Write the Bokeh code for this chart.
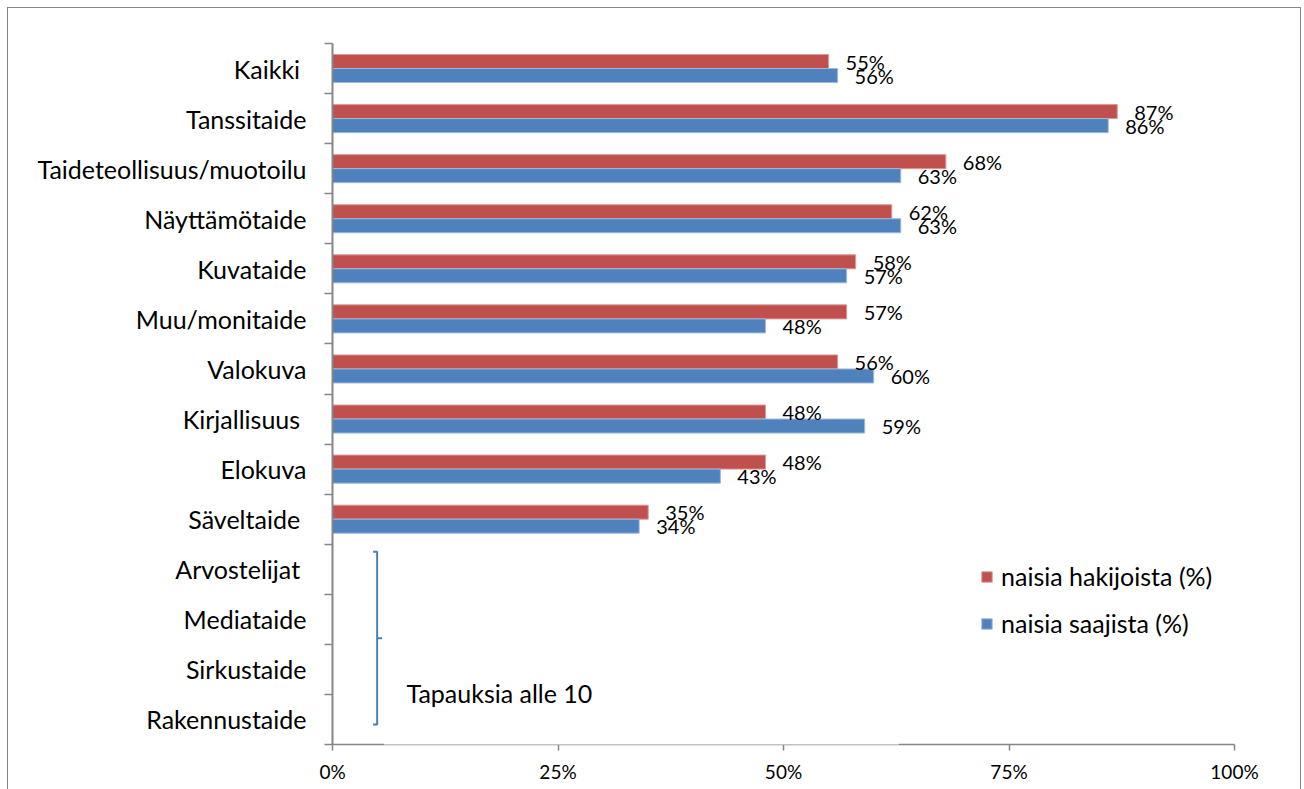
from bokeh.plotting import figure
from bokeh.models import (ColumnDataSource, FixedTicker, Range1d, Legend, LegendItem,
                          Label, BoxAnnotation, PrintfTickFormatter)
from bokeh.transform import dodge
from bokeh.core.properties import value
from bokeh.embed import file_html
from bokeh.resources import INLINE

# ---------------- data ----------------
categories = ["Kaikki ", "Tanssitaide", "Taideteollisuus/muotoilu", "Näyttämötaide",
              "Kuvataide", "Muu/monitaide", "Valokuva", "Kirjallisuus ", "Elokuva",
              "Säveltaide ", "Arvostelijat ", "Mediataide", "Sirkustaide", "Rakennustaide"]
hakijoista = [55, 87, 68, 62, 58, 57, 56, 48, 48, 35]
saajista = [56, 86, 63, 63, 57, 48, 60, 59, 43, 34]
series_names = ["naisia hakijoista (%)", "naisia saajista (%)"]
x_ticks = [0, 25, 50, 75, 100]
note_text = "Tapauksia alle 10"

# ---------------- styling ----------------
RED = "#C0504D"
BLUE = "#4F81BD"
AXIS = "#868686"
FONT = "Lato"

n = len(categories)
centers = [n - i - 0.5 for i in range(n)]
nd = len(hakijoista)

src = ColumnDataSource(dict(
    y=centers[:nd],
    hak=hakijoista,
    saa=saajista,
    hak_lbl=[f"{v}%" for v in hakijoista],
    saa_lbl=[f"{v}%" for v in saajista],
))

p = figure(frame_width=902, frame_height=701,
           x_range=Range1d(0, 100), y_range=Range1d(0, n),
           output_backend="svg", toolbar_location=None,
           min_border_left=324, min_border_right=66,
           min_border_top=35, min_border_bottom=45)
p.outline_line_color = None
p.xgrid.visible = False
p.ygrid.visible = False
p.background_fill_color = "white"
p.border_fill_color = "white"
p.styles = {"margin-left": "7px", "margin-top": "7px",
            "border-top": f"1px solid {AXIS}", "border-left": f"1px solid {AXIS}",
            "border-right": f"1px solid {AXIS}"}

BAR_H = 0.28
r_hak = p.hbar(y=dodge("y", BAR_H / 2), left=0, right="hak", height=BAR_H, source=src,
               fill_color=RED, line_color="#d99a98", line_width=1)
r_saa = p.hbar(y=dodge("y", -BAR_H / 2), left=0, right="saa", height=BAR_H, source=src,
               fill_color=BLUE, line_color="#9dbadf", line_width=1)

p.text(x="hak", y=dodge("y", BAR_H / 2), text="hak_lbl", source=src, x_offset=17,
       text_baseline="middle", text_align="left", text_font=value(FONT),
       text_font_size="20px", text_color="black")
p.text(x="saa", y=dodge("y", -BAR_H / 2), text="saa_lbl", source=src, x_offset=17,
       text_baseline="middle", text_align="left", text_font=value(FONT),
       text_font_size="20px", text_color="black")

# bracket for small-sample categories
bx = 4.95
p.line(x=[bx - 0.45, bx, bx, bx - 0.45], y=[3.85, 3.85, 0.4, 0.4],
       line_color="#4a7ebb", line_width=2)
p.segment(x0=[bx], x1=[bx + 0.55], y0=[2.12], y1=[2.12], line_color="#4a7ebb", line_width=2)
p.add_layout(Label(x=8.2, y=1.02, text=note_text, text_baseline="middle",
                   text_font=FONT, text_font_size="25px", text_color="black"))

# white text-box covering part of the x-axis line
p.add_layout(BoxAnnotation(left=5.7, right=62.8, bottom=-0.07, top=0.04,
                           fill_color="white", fill_alpha=1, line_color=None,
                           level="overlay"))

# axes
p.xaxis.ticker = FixedTicker(ticks=x_ticks)
p.xaxis.formatter = PrintfTickFormatter(format="%d%%")
p.xaxis.axis_line_color = AXIS
p.xaxis.axis_line_width = 1.5
p.xaxis.major_tick_line_color = AXIS
p.xaxis.major_tick_line_width = 1.5
p.xaxis.major_tick_out = 6
p.xaxis.major_tick_in = 0
p.xaxis.minor_tick_line_color = None
p.xaxis.major_label_standoff = 9
p.xaxis.major_label_text_font = FONT
p.xaxis.major_label_text_font_size = "19px"
p.xaxis.major_label_text_color = "black"

p.yaxis.ticker = FixedTicker(ticks=centers, minor_ticks=list(range(n + 1)))
p.yaxis.major_label_overrides = {c: cat for c, cat in zip(centers, categories)}
p.yaxis.axis_line_color = AXIS
p.yaxis.axis_line_width = 2
p.yaxis.major_tick_line_color = None
p.yaxis.major_tick_out = 0
p.yaxis.major_tick_in = 0
p.yaxis.minor_tick_line_color = AXIS
p.yaxis.minor_tick_line_width = 1.5
p.yaxis.minor_tick_out = 8
p.yaxis.minor_tick_in = 0
p.yaxis.major_label_standoff = 18
p.yaxis.major_label_text_font = FONT
p.yaxis.major_label_text_font_size = "25px"
p.yaxis.major_label_text_color = "black"

legend = Legend(items=[LegendItem(label=series_names[0], renderers=[r_hak]),
                       LegendItem(label=series_names[1], renderers=[r_saa])],
                location=(648, 106), orientation="vertical",
                border_line_color=None, background_fill_alpha=0,
                padding=0, margin=0, spacing=17,
                glyph_width=13, glyph_height=13, label_standoff=8,
                label_text_font=FONT, label_text_font_size="25px",
                label_text_color="black")
p.add_layout(legend)

open("out.html", "w").write(file_html(p, INLINE))
